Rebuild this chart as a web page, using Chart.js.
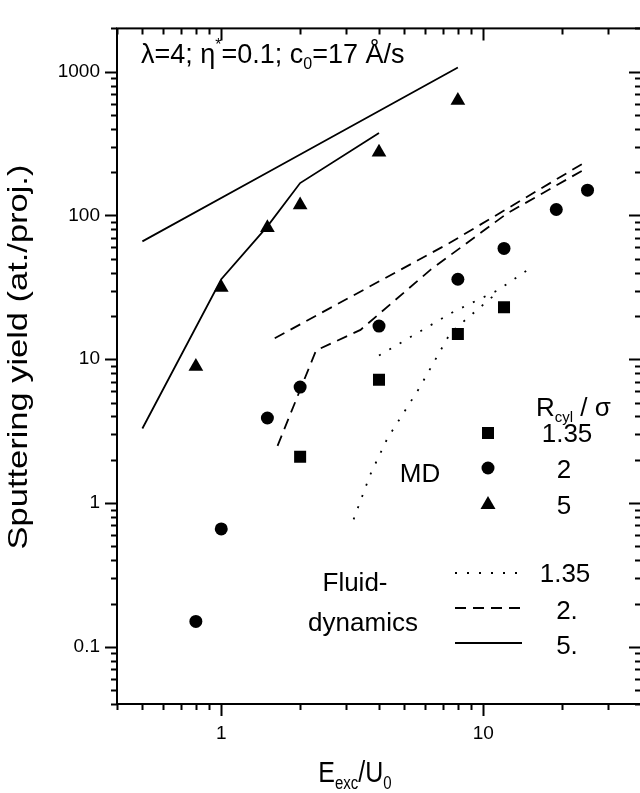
<!DOCTYPE html>
<html>
<head>
<meta charset="utf-8">
<script src="https://cdn.jsdelivr.net/npm/chart.js@4.4.1/dist/chart.umd.min.js"></script>
<style>
  html, body { margin: 0; padding: 0; background: #fff; overflow: hidden; }
  #wrap { width: 660px; height: 793px; position: relative; }
</style>
</head>
<body>
<div id="wrap"><canvas id="chart"></canvas></div>
<script>
// MD results (symbols)
const mdX135 = [2, 4, 8, 12];
const mdY135 = [2.1, 7.2, 15, 23];
const mdX2 = [0.8, 1, 1.5, 2, 4, 8, 12, 19, 25];
const mdY2 = [0.15, 0.66, 3.9, 6.4, 17, 36, 59, 110, 150];
const mdX5 = [0.8, 1, 1.5, 2, 4, 8];
const mdY5 = [8.9, 31.5, 82, 118, 275, 630];

// fluid-dynamics curves
const fdX135a = [4, 7.7, 11.3, 15.4];
const fdY135a = [10.6, 21.4, 30, 44];
const fdX135b = [3.2, 3.7, 4.3, 5.7, 7.5, 11.3];
const fdY135b = [0.77, 1.57, 2.8, 6.3, 15.3, 29];
const fdX2a = [1.6, 7.4, 25];
const fdY2a = [14, 64, 240];
const fdX2b = [1.64, 2.3, 3.4, 6.3, 12.3, 25];
const fdY2b = [2.5, 11.5, 16, 42, 103, 215];
const fdX5a = [0.5, 1.6, 8];
const fdY5a = [66, 212, 1070];
const fdX5b = [0.5, 1, 1.5, 2, 4];
const fdY5b = [3.3, 36, 84, 168, 375];

// axis labels
const xTickVals = [1, 10];
const yTickVals = [0.1, 1, 10, 100, 1000];

const FONT = '"Liberation Sans", Arial, Helvetica, sans-serif';

function pts(xs, ys) {
    return xs.map((x, i) => ({ x: x, y: ys[i] }));
}

function lineSet(xs, ys, dash) {
    return {
        data: pts(xs, ys),
        showLine: true,
        borderColor: '#000',
        borderWidth: 1.8,
        borderDash: dash,
        pointRadius: 0,
        tension: 0
    };
}

function markSet(xs, ys, style, r) {
    return {
        data: pts(xs, ys),
        showLine: false,
        pointStyle: style,
        pointRadius: r,
        backgroundColor: '#000',
        borderColor: '#000',
        borderWidth: 0
    };
}

const DOT = [2, 10];
const DASH = [11, 7];

// draw a run of text pieces: [text, size, dy]
function richText(ctx, x, y, parts, align) {
    let w = 0;
    parts.forEach(p => { ctx.font = p[1] + 'px ' + FONT; w += ctx.measureText(p[0]).width; });
    let cx = align === 'center' ? x - w / 2 : x;
    ctx.textAlign = 'left';
    ctx.textBaseline = 'alphabetic';
    parts.forEach(p => {
        ctx.font = p[1] + 'px ' + FONT;
        ctx.fillText(p[0], cx, y + (p[2] || 0));
        cx += ctx.measureText(p[0]).width;
    });
}

function minorVals(min, max) {
    const out = [];
    for (let e = -3; e <= 4; e++) {
        for (let m = 1; m <= 9; m++) {
            const v = m * Math.pow(10, e);
            if (v >= min * 0.999 && v <= max * 1.001) out.push({ v: v, major: m === 1 });
        }
    }
    return out;
}

const framePlugin = {
    id: 'frame',
    afterDraw(chart) {
        const ctx = chart.ctx;
        const a = chart.chartArea;
        const xs = chart.scales.x, ys = chart.scales.y;
        ctx.save();
        ctx.strokeStyle = '#000';
        ctx.fillStyle = '#000';
        ctx.lineWidth = 2;
        ctx.strokeRect(a.left, a.top, a.right - a.left, a.bottom - a.top);

        // tick marks
        ctx.beginPath();
        minorVals(xs.min, xs.max).forEach(t => {
            const px = Math.round(xs.getPixelForValue(t.v)) + 0.5;
            const len = t.major ? 12 : 6;
            ctx.moveTo(px, a.bottom); ctx.lineTo(px, a.bottom + len);
            ctx.moveTo(px, a.top); ctx.lineTo(px, a.top + len);
        });
        minorVals(ys.min, ys.max).forEach(t => {
            const py = Math.round(ys.getPixelForValue(t.v)) + 0.5;
            const len = t.major ? 12 : 6;
            ctx.moveTo(a.left, py); ctx.lineTo(a.left - len, py);
            ctx.moveTo(a.right, py); ctx.lineTo(a.right - len, py);
        });
        ctx.stroke();

        // header text
        richText(ctx, 141, 63, [
            ['λ=4; η', 27], ['*', 16, -13], ['=0.1; c', 27], ['0', 16, 6], ['=17 Å/s', 27]
        ]);

        // MD legend
        richText(ctx, 536, 416, [['R', 26], ['cyl', 15, 6], [' / σ', 26]]);
        ctx.font = '26px ' + FONT;
        ctx.textAlign = 'center';
        ctx.fillText('1.35', 567, 442);
        ctx.fillText('2', 564, 478);
        ctx.fillText('5', 564, 514);
        ctx.fillText('MD', 420, 482);
        ctx.fillRect(482, 427, 12, 12);
        ctx.beginPath(); ctx.arc(488, 468, 6.5, 0, Math.PI * 2); ctx.fill();
        ctx.beginPath();
        ctx.moveTo(488, 496); ctx.lineTo(495.5, 509); ctx.lineTo(480.5, 509); ctx.closePath(); ctx.fill();

        // fluid-dynamics legend
        ctx.fillText('Fluid-', 355, 591);
        ctx.fillText('dynamics', 363, 631);
        ctx.fillText('1.35', 565, 582);
        ctx.fillText('2.', 567, 619);
        ctx.fillText('5.', 567, 654);
        ctx.lineWidth = 1.8;
        [[573, DOT], [608, DASH], [643, []]].forEach(l => {
            ctx.setLineDash(l[1]);
            ctx.beginPath(); ctx.moveTo(455, l[0]); ctx.lineTo(522, l[0]); ctx.stroke();
        });
        ctx.setLineDash([]);

        // axis titles
        ctx.save();
        ctx.translate(0, 782);
        ctx.scale(1, 1.2);
        richText(ctx, 355, 0, [['E', 25], ['exc', 15, 6], ['/U', 25], ['0', 15, 6]], 'center');
        ctx.restore();
        ctx.save();
        ctx.translate(27, 357);
        ctx.rotate(-Math.PI / 2);
        ctx.scale(1.23, 1);
        ctx.font = '28px ' + FONT;
        ctx.textAlign = 'center';
        ctx.fillText('Sputtering yield (at./proj.)', 0, 0);
        ctx.restore();
        ctx.restore();
    }
};

new Chart(document.getElementById('chart'), {
    type: 'scatter',
    data: {
        datasets: [
            lineSet(fdX135a, fdY135a, DOT),
            lineSet(fdX135b, fdY135b, DOT),
            lineSet(fdX2a, fdY2a, DASH),
            lineSet(fdX2b, fdY2b, DASH),
            lineSet(fdX5a, fdY5a, []),
            lineSet(fdX5b, fdY5b, []),
            markSet(mdX135, mdY135, 'rect', 8.5),
            markSet(mdX2, mdY2, 'circle', 6.5),
            markSet(mdX5, mdY5, 'triangle', 8.5)
        ]
    },
    options: {
        responsive: true,
        maintainAspectRatio: false,
        animation: false,
        layout: { padding: { top: 5, right: 19, left: 0, bottom: 0 } },
        plugins: { legend: { display: false }, tooltip: { enabled: false } },
        scales: {
            x: {
                type: 'logarithmic',
                min: 0.4, max: 40,
                grid: { display: false, drawTicks: false },
                border: { display: false },
                afterBuildTicks: s => { s.ticks = xTickVals.map(v => ({ value: v })); },
                afterFit: s => { s.height = 89; },
                ticks: {
                    color: '#000', padding: 18, maxRotation: 0, autoSkip: false,
                    font: { family: FONT, size: 19 },
                    callback: v => String(v)
                }
            },
            y: {
                type: 'logarithmic',
                min: 0.04, max: 2000,
                grid: { display: false, drawTicks: false },
                border: { display: false },
                afterBuildTicks: s => { s.ticks = yTickVals.map(v => ({ value: v })); },
                afterFit: s => { s.width = 117; },
                ticks: {
                    color: '#000', padding: 17, autoSkip: false,
                    font: { family: FONT, size: 19 },
                    callback: v => String(v)
                }
            }
        }
    },
    plugins: [framePlugin]
});
</script>
</body>
</html>
